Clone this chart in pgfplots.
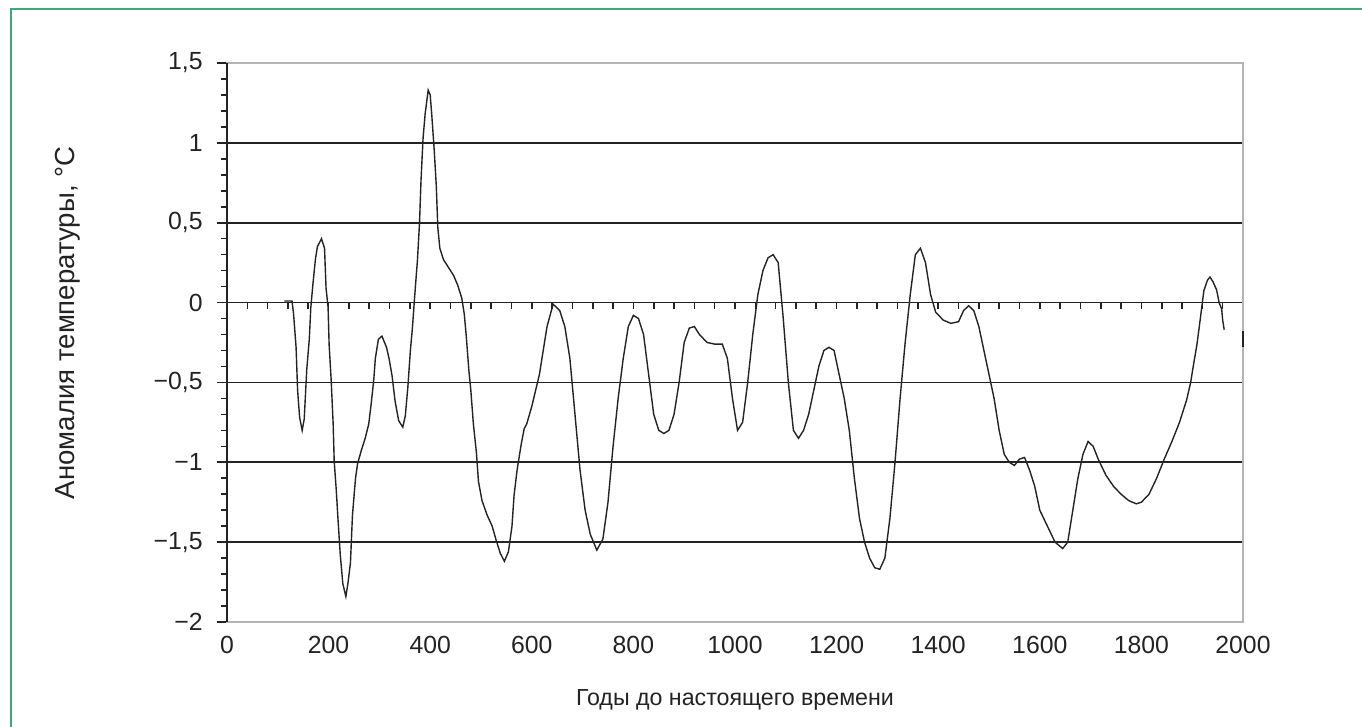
\documentclass[border=0pt]{standalone}
\usepackage{fontspec}
\setmainfont{Liberation Sans}
\usepackage{pgfplots}
\usepackage{pgfplotstable}
\pgfplotsset{compat=1.18}
\definecolor{frame}{RGB}{60,170,120}
\definecolor{bord}{RGB}{180,180,180}
\definecolor{ink}{RGB}{35,35,35}
\pgfplotstableread{
x y
113 0.01
128 0.01
131 -0.07
136 -0.28
139 -0.55
143 -0.72
148 -0.80
152 -0.73
157 -0.42
162 -0.23
165 -0.03
169 0.11
174 0.27
178 0.35
186 0.40
192 0.34
195 0.09
199 -0.03
201 -0.26
205 -0.48
209 -0.76
211 -0.99
215 -1.17
218 -1.33
223 -1.58
228 -1.76
234 -1.84
238 -1.76
243 -1.63
247 -1.33
253 -1.10
257 -1.01
264 -0.93
272 -0.85
279 -0.76
284 -0.63
289 -0.48
292 -0.35
298 -0.23
305 -0.21
314 -0.28
319 -0.35
325 -0.46
331 -0.62
338 -0.74
346 -0.78
351 -0.71
356 -0.53
361 -0.30
365 -0.16
369 0.02
375 0.27
379 0.50
382 0.77
386 1.03
390 1.18
396 1.33
400 1.30
403 1.18
408 0.95
412 0.73
415 0.47
419 0.34
426 0.27
436 0.22
446 0.17
454 0.11
462 0.03
467 -0.07
471 -0.21
476 -0.42
480 -0.55
485 -0.76
491 -0.94
495 -1.12
502 -1.24
512 -1.33
522 -1.40
530 -1.49
538 -1.57
546 -1.62
554 -1.56
561 -1.40
565 -1.21
571 -1.05
579 -0.89
585 -0.79
590 -0.76
600 -0.65
615 -0.45
630 -0.15
642 -0.01
655 -0.05
665 -0.15
675 -0.35
685 -0.70
695 -1.05
705 -1.30
715 -1.45
728 -1.55
740 -1.48
750 -1.25
760 -0.90
770 -0.60
780 -0.35
790 -0.15
800 -0.08
810 -0.10
820 -0.20
830 -0.45
840 -0.70
850 -0.80
860 -0.82
870 -0.80
880 -0.70
890 -0.50
900 -0.25
910 -0.16
920 -0.15
930 -0.20
945 -0.25
960 -0.26
975 -0.26
985 -0.35
995 -0.60
1005 -0.80
1015 -0.75
1025 -0.50
1035 -0.20
1045 0.05
1055 0.20
1065 0.28
1075 0.30
1085 0.25
1095 -0.10
1105 -0.50
1115 -0.80
1125 -0.85
1135 -0.80
1145 -0.70
1155 -0.55
1165 -0.40
1175 -0.30
1185 -0.28
1195 -0.30
1205 -0.45
1215 -0.60
1225 -0.80
1235 -1.10
1245 -1.35
1255 -1.50
1265 -1.60
1275 -1.66
1285 -1.67
1295 -1.60
1305 -1.35
1315 -1.00
1325 -0.60
1335 -0.25
1345 0.05
1355 0.30
1365 0.34
1375 0.25
1385 0.05
1395 -0.06
1410 -0.11
1425 -0.13
1440 -0.12
1450 -0.05
1460 -0.02
1470 -0.05
1480 -0.15
1490 -0.30
1500 -0.45
1510 -0.60
1520 -0.80
1530 -0.95
1540 -1.00
1550 -1.02
1560 -0.98
1570 -0.97
1580 -1.05
1590 -1.15
1600 -1.30
1615 -1.40
1630 -1.50
1645 -1.54
1655 -1.50
1665 -1.30
1675 -1.10
1685 -0.95
1695 -0.87
1705 -0.90
1715 -0.98
1730 -1.08
1745 -1.15
1760 -1.20
1775 -1.24
1790 -1.26
1800 -1.25
1815 -1.20
1830 -1.10
1845 -0.98
1860 -0.87
1875 -0.75
1889 -0.61
1897 -0.50
1902 -0.40
1909 -0.27
1914 -0.15
1919 -0.025
1923 0.075
1930 0.14
1935 0.16
1941 0.13
1948 0.08
1953 0.00
1958 -0.04
1960 -0.11
1963 -0.17
}\curve
\begin{document}
\begin{tikzpicture}
\useasboundingbox (-113.5pt,-52.5pt) rectangle (567.5pt,311pt);
\draw[frame,line width=1.2pt] (-108pt,-60pt) -- (-108pt,306.5pt) -- (580pt,306.5pt);
\begin{axis}[at={(0pt,0pt)}, anchor=south west, scale only axis,
  width=508pt, height=279.5pt,
  xmin=0, xmax=2000, ymin=-2, ymax=1.5,
  xtick={0,200,...,2000},
  xticklabels={0,200,400,600,800,1000,1200,1400,1600,1800,2000},
  ytick={-2,-1.5,-1,-0.5,0,0.5,1,1.5},
  yticklabels={{−2},{−1,5},{−1},{−0,5},{0},{0,5},{1},{1,5}},
  minor y tick num=4,
  ymajorgrids, grid style={ink, line width=0.9pt},
  axis line style={bord, line width=0.9pt},
  x tick style={draw=none},
  y tick style={ink, line width=0.8pt},
  ytick pos=left, tick align=outside,
  major tick length=5pt, minor tick length=3pt,
  ticklabel style={font=\fontsize{12.4}{14}\selectfont, text=ink},
  xticklabel style={anchor=north, inner sep=0pt, yshift=-2pt},
  yticklabel style={anchor=east, inner sep=0pt, xshift=-7pt},
  xlabel={Годы до настоящего времени},
  ylabel={Аномалия температуры, °C},
  xlabel style={font=\fontsize{11.6}{14}\selectfont, text=ink, at={(axis description cs:0.5,-0.14)}, anchor=center},
  ylabel style={font=\fontsize{13.8}{14}\selectfont, text=ink, at={(axis description cs:-0.1565,0.535)}, anchor=center},
  clip=false,
]
\addplot[ink, line width=0.7pt] table {\curve};
\addplot[ink, line width=1pt] coordinates {(2000,-0.18) (2000,-0.28)};
\pgfplotsinvokeforeach{40,80,...,1960}{\draw[ink,line width=0.8pt] (axis cs:#1,0) -- ([yshift=-3pt]axis cs:#1,0);}
\draw[ink, line width=1pt] (rel axis cs:0,0) -- (rel axis cs:0,1);
\end{axis}
\end{tikzpicture}
\end{document}
